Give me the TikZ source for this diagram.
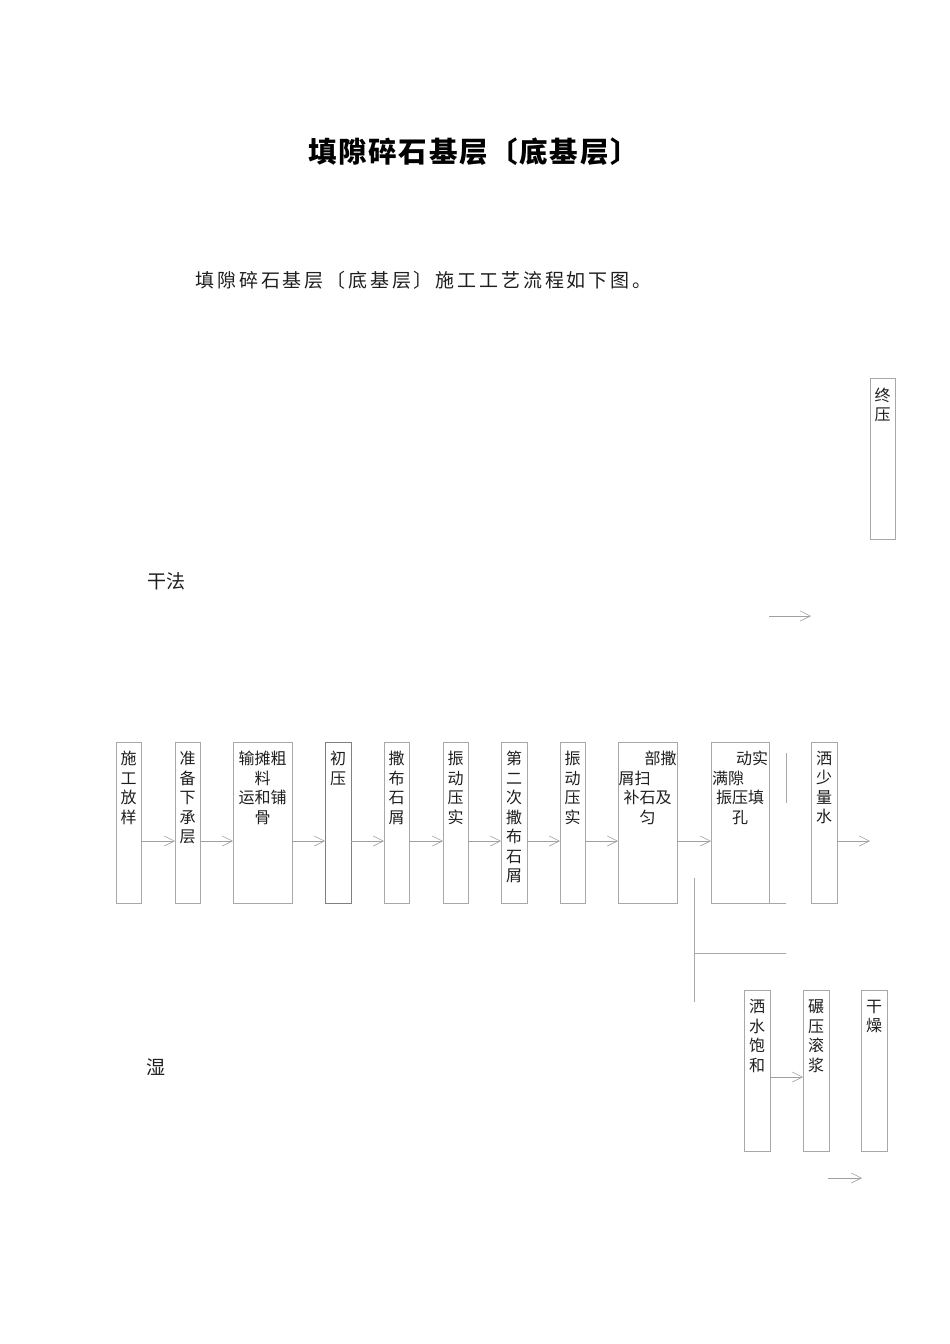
\documentclass[tikz,border=0pt]{standalone}
\usepackage{fontspec}
\setmainfont{Noto Sans CJK SC}
\usetikzlibrary{arrows.meta}
\definecolor{boxgray}{HTML}{A8A8A8}
\definecolor{arrgray}{HTML}{A0A0A0}
\definecolor{ink}{HTML}{1E1E1E}
\tikzset{
  stepbox/.style={draw=boxgray, line width=0.8pt, minimum width=#1, minimum height=161pt, inner sep=0pt, outer sep=0pt},
  boxtxt/.style={font=\fontsize{16}{19.5}\selectfont, align=center, inner sep=0pt, text=ink, anchor=north},
  arr/.style={draw=arrgray, line width=0.7pt, -{Straight Barb[length=10pt,width=10pt,line width=0.6pt]}},
  plain/.style={draw=boxgray, line width=0.8pt},
  labeltxt/.style={font=\fontsize{19}{22}\selectfont, inner sep=0pt, text=ink}
}
\begin{document}
\begin{tikzpicture}[x=1pt,y=-1pt]
\path[use as bounding box] (0,0) rectangle (950,1344);
% title and text
\node[font=\fontsize{28.5}{32}\selectfont\bfseries\addfontfeature{LetterSpace=6}, inner sep=0pt, text=black] (title) at (473.5,152) {填隙碎石基层〔底基层〕};
\node[font=\fontsize{19}{22}\selectfont\addfontfeature{LetterSpace=15}, inner sep=0pt, text=ink] (intro) at (423.5,280) {填隙碎石基层〔底基层〕施工工艺流程如下图。};
\node[labeltxt] (dry) at (166.5,581) {干法};
\node[labeltxt] (wet) at (155.5,1067) {湿};
% main row boxes
\node[stepbox=25pt] (b1) at (128.5,822.5) {};
\node[stepbox=25pt] (b2) at (187.5,822.5) {};
\node[stepbox=59pt] (b3) at (262.5,822.5) {};
\node[stepbox=26pt, draw=gray] (b4) at (338,822.5) {};
\node[stepbox=25pt] (b5) at (396.5,822.5) {};
\node[stepbox=25pt] (b6) at (455.5,822.5) {};
\node[stepbox=26pt] (b7) at (514,822.5) {};
\node[stepbox=25pt] (b8) at (572.5,822.5) {};
\node[stepbox=59pt] (b9) at (647.5,822.5) {};
\node[stepbox=58pt] (b10) at (740,822.5) {};
\node[stepbox=26pt] (b11) at (824,822.5) {};
\node[stepbox=25pt] (zy) at (882.5,459) {};
% bottom row boxes
\node[stepbox=26pt] (w1) at (757,1071) {};
\node[stepbox=26pt] (w2) at (816,1071) {};
\node[stepbox=26pt] (w3) at (874,1071) {};
% texts
\node[boxtxt] (t1) at ([yshift=-9pt]b1.north) {施\\工\\放\\样};
\node[boxtxt] (t2) at ([yshift=-9pt]b2.north) {准\\备\\下\\承\\层};
\node[boxtxt] (t3) at ([yshift=-9pt]b3.north) {输摊粗\\料\\运和铺\\骨};
\node[boxtxt] (t4) at ([yshift=-9pt]b4.north) {初\\压};
\node[boxtxt] (t5) at ([yshift=-9pt]b5.north) {撒\\布\\石\\屑};
\node[boxtxt] (t6) at ([yshift=-9pt]b6.north) {振\\动\\压\\实};
\node[boxtxt] (t7) at ([yshift=-9pt]b7.north) {第\\二\\次\\撒\\布\\石\\屑};
\node[boxtxt] (t8) at ([yshift=-9pt]b8.north) {振\\动\\压\\实};
\node[boxtxt, text width=58pt] (t9) at ([yshift=-9pt]b9.north) {\hfill 部撒\\屑扫\hfill\null\\补石及\\匀};
\node[boxtxt, text width=56pt] (t10) at ([yshift=-9pt]b10.north) {\hfill 动实\\满隙\hfill\null\\振压填\\孔};
\node[boxtxt] (t11) at ([yshift=-9pt]b11.north) {洒\\少\\量\\水};
\node[boxtxt] (tz) at ([yshift=-9pt]zy.north) {终\\压};
\node[boxtxt] (tw1) at ([yshift=-9pt]w1.north) {洒\\水\\饱\\和};
\node[boxtxt] (tw2) at ([yshift=-9pt]w2.north) {碾\\压\\滚\\浆};
\node[boxtxt] (tw3) at ([yshift=-9pt]w3.north) {干\\燥};
% arrows main row
\foreach \a/\b in {b1/b2,b2/b3,b3/b4,b4/b5,b5/b6,b6/b7,b7/b8,b8/b9,b9/b10}{
  \draw[arr] ([yshift=-18.5pt]\a.east) -- ([yshift=-18.5pt]\b.west);
}
\coordinate (o11) at (870,841);
\draw[arr] ([yshift=-18.5pt]b11.east) -- (o11);
% free arrows
\coordinate (fa1) at (769,616);
\coordinate (fa2) at (811,616);
\draw[arr] (fa1) -- (fa2);
\coordinate (fb1) at (828,1178);
\coordinate (fb2) at (862,1178);
\draw[arr] (fb1) -- (fb2);
\draw[arr] ([yshift=-6pt]w1.east) -- ([yshift=-6pt]w2.west);
% connector lines
\coordinate (v1) at (694,878);
\coordinate (v2) at (694,1002);
\coordinate (h1) at (694,953);
\coordinate (h2) at (786,953);
\coordinate (r1) at (786,753);
\coordinate (r2) at (786,803);
\coordinate (s2) at (786,903);
\draw[plain] (v1) -- (v2);
\draw[plain] (h1) -- (h2);
\draw[plain] (r1) -- (r2);
\draw[plain] (b10.south east) -- (s2);
\end{tikzpicture}
\end{document}
